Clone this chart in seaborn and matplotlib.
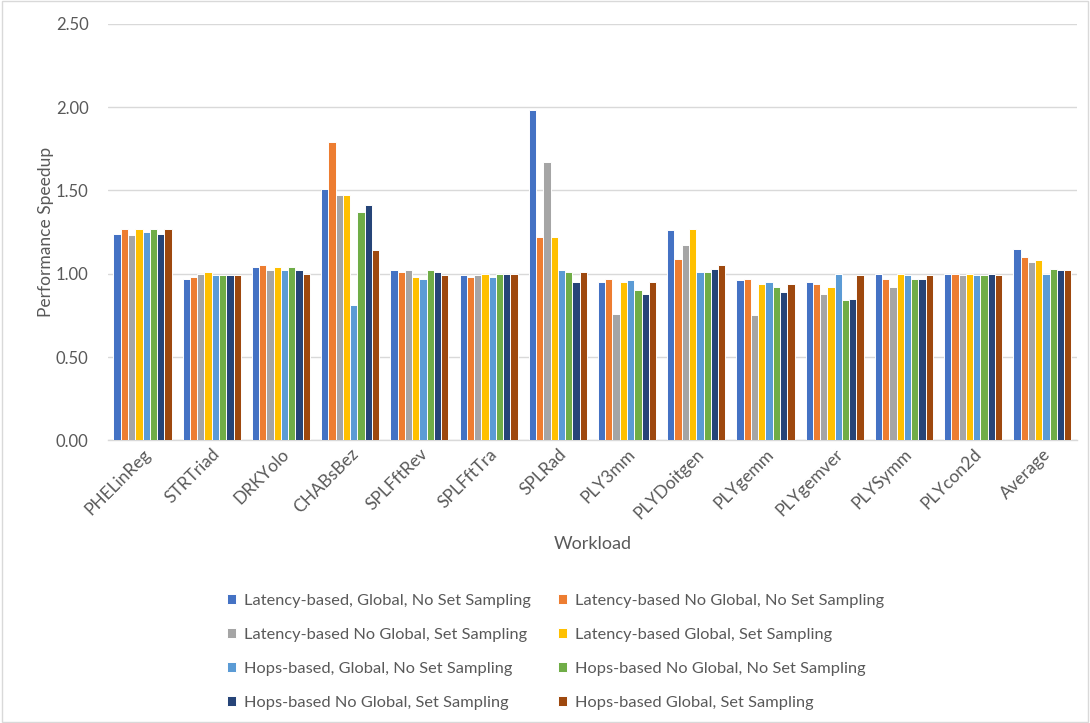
import matplotlib
matplotlib.use("Agg")
import matplotlib.pyplot as plt
from matplotlib.patches import Rectangle
import seaborn as sns
import pandas as pd

workloads = ["PHELinReg", "STRTriad", "DRKYolo", "CHABsBez", "SPLFftRev", "SPLFftTra",
             "SPLRad", "PLY3mm", "PLYDoitgen", "PLYgemm", "PLYgemver", "PLYSymm",
             "PLYcon2d", "Average"]

configs = [
    "Latency-based, Global, No Set Sampling",
    "Latency-based No Global, No Set Sampling",
    "Latency-based No Global, Set Sampling",
    "Latency-based Global, Set Sampling",
    "Hops-based, Global, No Set Sampling",
    "Hops-based No Global, No Set Sampling",
    "Hops-based No Global, Set Sampling",
    "Hops-based Global, Set Sampling",
]

lat_global_noss = [1.24, 0.97, 1.04, 1.51, 1.02, 0.99, 1.98, 0.95, 1.26, 0.96, 0.95, 1.00, 1.00, 1.15]
lat_noglobal_noss = [1.27, 0.98, 1.05, 1.79, 1.01, 0.98, 1.22, 0.97, 1.09, 0.97, 0.94, 0.97, 1.00, 1.10]
lat_noglobal_ss = [1.23, 1.00, 1.02, 1.47, 1.02, 0.99, 1.67, 0.76, 1.17, 0.75, 0.88, 0.92, 0.99, 1.07]
lat_global_ss = [1.27, 1.01, 1.04, 1.47, 0.98, 1.00, 1.22, 0.95, 1.27, 0.94, 0.92, 1.00, 1.00, 1.08]
hops_global_noss = [1.25, 0.99, 1.02, 0.81, 0.97, 0.98, 1.02, 0.96, 1.01, 0.95, 1.00, 0.99, 0.99, 1.00]
hops_noglobal_noss = [1.27, 0.99, 1.04, 1.37, 1.02, 1.00, 1.01, 0.90, 1.01, 0.92, 0.84, 0.97, 0.99, 1.03]
hops_noglobal_ss = [1.24, 0.99, 1.02, 1.41, 1.01, 1.00, 0.95, 0.88, 1.03, 0.89, 0.85, 0.97, 1.00, 1.02]
hops_global_ss = [1.27, 0.99, 1.00, 1.14, 0.99, 1.00, 1.01, 0.95, 1.05, 0.94, 0.99, 0.99, 0.99, 1.02]

series = [lat_global_noss, lat_noglobal_noss, lat_noglobal_ss, lat_global_ss,
          hops_global_noss, hops_noglobal_noss, hops_noglobal_ss, hops_global_ss]

colors = ["#4472C4", "#ED7D31", "#A5A5A5", "#FFC000",
          "#5B9BD5", "#70AD47", "#264478", "#9E480E"]

rows = []
for cfg, vals in zip(configs, series):
    for w, v in zip(workloads, vals):
        rows.append({"Workload": w, "Speedup": v, "Config": cfg})
df = pd.DataFrame(rows)

sns.set_theme(style="white")
plt.rcParams["font.family"] = ["Lato", "DejaVu Sans"]
text_color = "#595959"
grid_color = "#D9D9D9"

fig = plt.figure(figsize=(10.9, 7.23), dpi=100)
ax = fig.add_axes([0.099, 0.391, 0.889, 0.576])

sns.barplot(data=df, x="Workload", y="Speedup", hue="Config", hue_order=configs,
            order=workloads, palette=colors, saturation=1, width=0.84,
            edgecolor="white", linewidth=0.7, ax=ax, zorder=3)

ax.set_ylim(0, 2.5)
ticks = [0, 0.5, 1.0, 1.5, 2.0, 2.5]
ax.set_yticks(ticks)
ax.set_yticklabels([f"{t:.2f}" for t in ticks])
ax.set_xlim(-0.5, len(workloads) - 0.5)
ax.yaxis.grid(True, color=grid_color, linewidth=1.0, zorder=0)
ax.set_axisbelow(True)
for side in ["top", "right", "left"]:
    ax.spines[side].set_visible(False)
ax.spines["bottom"].set_color(grid_color)
ax.spines["bottom"].set_linewidth(1.0)
ax.tick_params(axis="x", length=0, colors=text_color, labelsize=12.5, pad=4)
ax.tick_params(axis="y", length=0, colors=text_color, labelsize=12, pad=14)
plt.setp(ax.get_xticklabels(), rotation=45, ha="right", rotation_mode="anchor")

ax.set_xlabel("Workload", fontsize=13, color=text_color, labelpad=10)
ax.set_ylabel("Performance Speedup", fontsize=12.5, color=text_color)
ax.yaxis.set_label_coords(-0.056, 0.5)

handles, labels = ax.get_legend_handles_labels()
ax.get_legend().remove()
# row-wise ordering for a two-column legend
order = [0, 2, 4, 6, 1, 3, 5, 7]
leg = fig.legend([handles[i] for i in order], [labels[i] for i in order],
                 ncol=2, loc="upper center",
                 bbox_to_anchor=(0.5096, 0.199), frameon=False, fontsize=11.75,
                 handlelength=0.55, handleheight=0.55, handletextpad=0.45,
                 columnspacing=1.7, labelspacing=1.22)
for t in leg.get_texts():
    t.set_color(text_color)

fig.patches.append(Rectangle((0.002, 0.002), 0.996, 0.996, transform=fig.transFigure,
                             fill=False, edgecolor=grid_color, linewidth=1.0))

fig.savefig("out.png", dpi=100)
